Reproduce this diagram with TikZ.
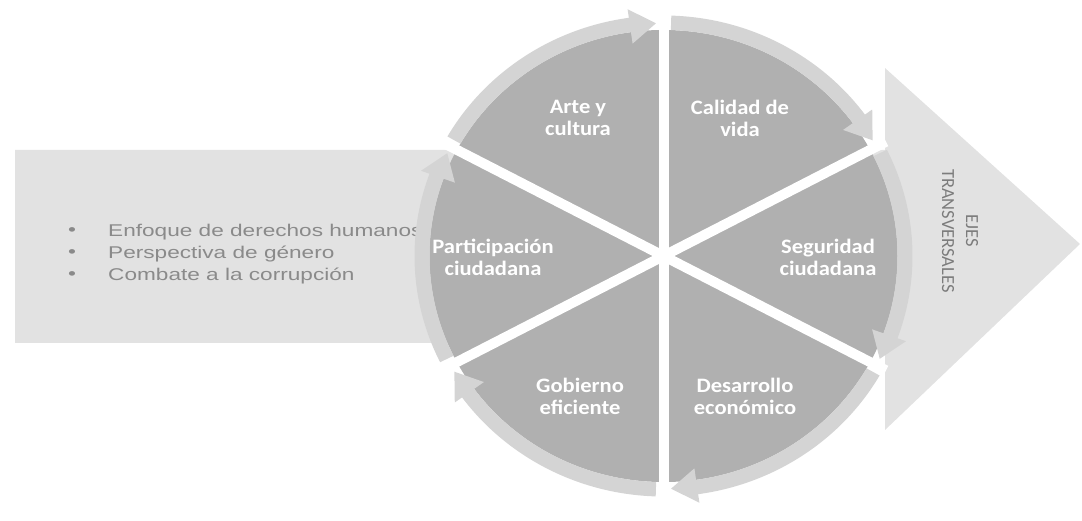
\documentclass[tikz,border=0pt]{standalone}
\usepackage{fontspec}
\setmainfont{Liberation Sans}
\newfontfamily\listfont[FakeStretch=1.33]{Liberation Sans}
\newfontfamily\segfont[FakeStretch=1.1]{Carlito}
\newfontfamily\ejefont{Carlito}
\definecolor{arrowgray}{HTML}{E2E2E2}
\definecolor{ringgray}{HTML}{D4D4D4}
\definecolor{seggray}{HTML}{B0B0B0}
\definecolor{listgray}{HTML}{8A8A8A}
\definecolor{ejegray}{HTML}{7C7C7C}

\begin{document}
\begin{tikzpicture}[x=1pt,y=1pt,
  seglabel/.style={text=white,align=center,font=\segfont\bfseries\fontsize{20.5}{22}\selectfont},
  listitem/.style={anchor=west,inner sep=0pt,text=listgray,font=\listfont\fontsize{17}{19}\selectfont},
  sepline/.style={white,line width=10pt}]
\useasboundingbox (0,0) rectangle (1082,520);
% big arrow behind the wheel
\fill[arrowgray] (15,177) -- (15,370) -- (885,370) -- (885,452) -- (1080,276) -- (885,90) -- (885,177) -- cycle;
\node[listitem] (bul1) at (68,288) {\textbullet};
\node[listitem] (bul2) at (68,266) {\textbullet};
\node[listitem] (bul3) at (68,244) {\textbullet};
\node[listitem] (ejeA) at (108,288) {Enfoque de derechos humanos};
\node[listitem] (ejeB) at (108,266) {Perspectiva de género};
\node[listitem] (ejeC) at (108,244) {Combate a la corrupción};
% wheel
\begin{scope}[shift={(663.5,264)},yscale=0.966]
\fill[seggray] (0,0) circle (234);
\foreach \a in {90,28,-28,-90,-152,152}
  \draw[sepline] (0,0) -- (\a:252);
\foreach \s/\e in {152/90,90/28,28/-28,-28/-90,-90/-152,-152/-208}
  \fill[ringgray] (\s-1.8:249) arc[start angle=\s-1.8,end angle=\e+8,radius=249]
    -- (\e+8:258) -- (\e+1.8:241) -- (\e+8:222) -- (\e+8:234)
    arc[start angle=\e+8,end angle=\s-1.8,radius=234] -- cycle;
\end{scope}
\node[seglabel] (arte) at (578,402) {Arte y\\cultura};
\node[seglabel] (calidad) at (740,402) {Calidad de\\vida};
\node[seglabel] (particip) at (493,263) {Participación\\ciudadana};
\node[seglabel] (segur) at (828,263) {Seguridad\\ciudadana};
\node[seglabel] (gobierno) at (580,124) {Gobierno\\eficiente};
\node[seglabel] (desarr) at (745,124) {Desarrollo\\económico};
\node[rotate=-90,align=center,text=ejegray,font=\ejefont\fontsize{18.5}{24}\selectfont] (ejes) at (960,289) {EJES\\TRANSVERSALES};
\end{tikzpicture}
\end{document}
